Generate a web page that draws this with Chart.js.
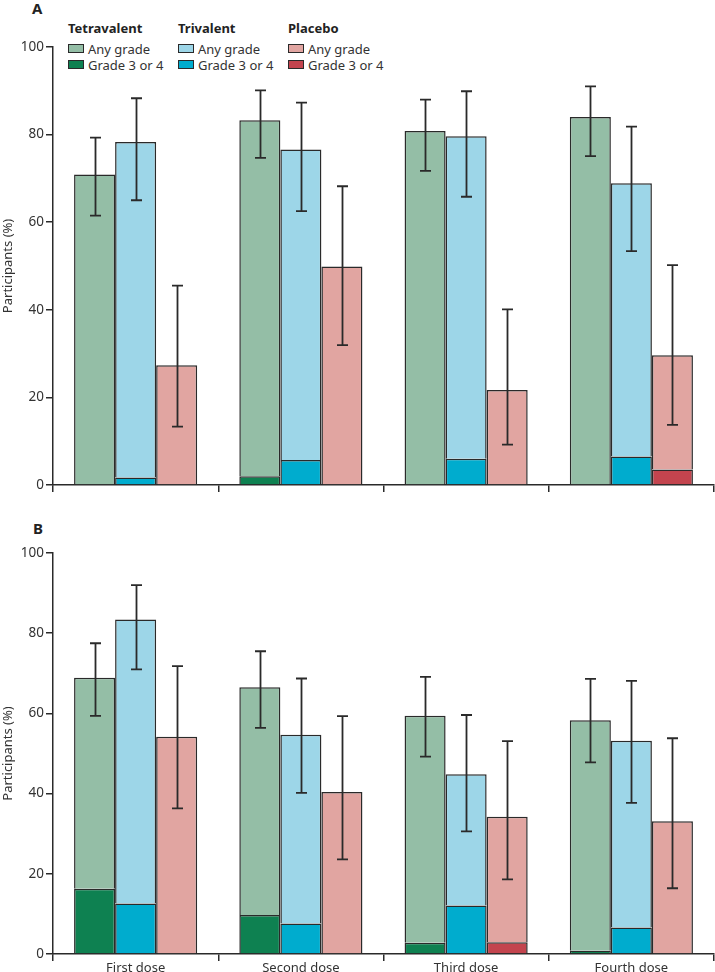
<!DOCTYPE html>
<html>
<head>
<meta charset="utf-8">
<script src="https://cdn.jsdelivr.net/npm/chart.js@4"></script>
<style>
  body { margin: 0; background: #fff; font-family: "Noto Sans", sans-serif; }
  #wrap { position: relative; width: 715px; height: 972px; overflow: hidden; }
  canvas { position: absolute; left: 0; }
  .panel { position: absolute; font-weight: bold; font-size: 15px; color: #222; }
  .head { position: absolute; font-weight: bold; font-size: 13px; color: #222; }
  .item { position: absolute; font-size: 13px; color: #333; line-height: 16px; white-space: nowrap; }
  .sw { display: inline-block; width: 14px; height: 7px; border: 1.5px solid #2a2a2a; margin-right: 4px; vertical-align: 1px; }
</style>
</head>
<body>
<div id="wrap">
  <div class="panel" style="left:32px;top:-2px;">A</div>
  <div class="panel" style="left:33px;top:518px;">B</div>
  <div id="legend"></div>
  <canvas id="chartA" width="715" height="495" style="top:0"></canvas>
  <canvas id="chartB" width="715" height="472" style="top:500px"></canvas>
</div>
<script>
const doses = ["First dose", "Second dose", "Third dose", "Fourth dose"];
const yTicks = [0, 20, 40, 60, 80, 100];
const groupNames = ["Tetravalent", "Trivalent", "Placebo"];
const gradeNames = ["Any grade", "Grade 3 or 4"];
const anyColors = ["#94bea6", "#9dd6e8", "#e1a5a1"];
const severeColors = ["#0e8151", "#00acce", "#c3444e"];

// panel A
const aTetraAny = [70.9, 83.3, 80.8, 84.0];
const aTetraSevere = [0, 2.0, 0, 0];
const aTetraLow = [61.5, 74.7, 71.7, 75.1];
const aTetraHigh = [79.3, 90.1, 88.0, 91.0];
const aTriAny = [78.3, 76.6, 79.6, 68.9];
const aTriSevere = [1.7, 5.7, 6.0, 6.5];
const aTriLow = [65.0, 62.5, 65.8, 53.4];
const aTriHigh = [88.3, 87.3, 89.9, 81.8];
const aPlaAny = [27.3, 49.9, 21.7, 29.6];
const aPlaSevere = [0, 0, 0, 3.5];
const aPlaLow = [13.3, 31.9, 9.2, 13.7];
const aPlaHigh = [45.5, 68.2, 40.1, 50.2];

// panel B
const bTetraAny = [68.9, 66.5, 59.4, 58.3];
const bTetraSevere = [16.3, 9.7, 2.8, 0.8];
const bTetraLow = [59.4, 56.4, 49.2, 47.8];
const bTetraHigh = [77.5, 75.5, 69.1, 68.6];
const bTriAny = [83.4, 54.7, 44.8, 53.2];
const bTriSevere = [12.6, 7.6, 12.1, 6.6];
const bTriLow = [71.0, 40.2, 30.6, 37.7];
const bTriHigh = [92.0, 68.7, 59.6, 68.1];
const bPlaAny = [54.2, 40.4, 34.2, 33.1];
const bPlaSevere = [0, 0, 2.9, 0];
const bPlaLow = [36.3, 23.6, 18.6, 16.4];
const bPlaHigh = [71.8, 59.3, 53.1, 53.8];

const ink = "#2a2a2a";
const font = "'Noto Sans', sans-serif";

// legend (html)
const legend = document.getElementById("legend");
const legendX = [68, 178, 288];
groupNames.forEach((name, i) => {
  const h = document.createElement("div");
  h.className = "head";
  h.style.left = legendX[i] + "px";
  h.style.top = "19px";
  h.innerText = name;
  legend.appendChild(h);
  [anyColors[i], severeColors[i]].forEach((c, k) => {
    const it = document.createElement("div");
    it.className = "item";
    it.style.left = legendX[i] + "px";
    it.style.top = (41 + k * 16) + "px";
    it.innerHTML = '<span class="sw" style="background:' + c + '"></span>' + gradeNames[k];
    legend.appendChild(it);
  });
});

const errorBars = {
  id: "errorBars",
  afterDatasetsDraw(chart) {
    const ctx = chart.ctx;
    const y = chart.scales.y;
    ctx.save();
    ctx.strokeStyle = ink;
    ctx.lineWidth = 1.8;
    chart.data.datasets.forEach((ds, i) => {
      if (!ds.ciLow) return;
      const meta = chart.getDatasetMeta(i);
      meta.data.forEach((bar, j) => {
        const x = Math.round(bar.x) + 0.5;
        const y1 = y.getPixelForValue(ds.ciHigh[j]);
        const y2 = y.getPixelForValue(ds.ciLow[j]);
        ctx.beginPath();
        ctx.moveTo(x, y1); ctx.lineTo(x, y2);
        ctx.moveTo(x - 5.5, y1); ctx.lineTo(x + 5.5, y1);
        ctx.moveTo(x - 5.5, y2); ctx.lineTo(x + 5.5, y2);
        ctx.stroke();
      });
    });
    ctx.restore();
  }
};

function makeChart(id, groups, topPad, xHeight, showLabels) {
  const datasets = [];
  groups.forEach((g, i) => {
    datasets.push({
      label: groupNames[i] + " " + gradeNames[1],
      data: g.severe,
      stack: groupNames[i],
      backgroundColor: severeColors[i],
      borderColor: ink,
      borderWidth: 1.5
    });
    datasets.push({
      label: groupNames[i] + " " + gradeNames[0],
      data: g.any.map((v, j) => v - g.severe[j]),
      stack: groupNames[i],
      backgroundColor: anyColors[i],
      borderColor: ink,
      borderWidth: 1.5,
      ciLow: g.low,
      ciHigh: g.high
    });
  });

  return new Chart(document.getElementById(id), {
    type: "bar",
    data: { labels: doses, datasets: datasets },
    plugins: [errorBars],
    options: {
      responsive: false,
      animation: false,
      devicePixelRatio: 1,
      categoryPercentage: 0.745,
      barPercentage: 1.0,
      layout: { padding: { top: topPad, right: 1, left: 0, bottom: 0 } },
      plugins: { legend: { display: false }, tooltip: { enabled: false } },
      scales: {
        x: {
          stacked: true,
          offset: true,
          grid: { display: true, offset: true, drawOnChartArea: false, drawTicks: true, tickLength: 7, color: ink, lineWidth: 1.5 },
          border: { display: true, color: ink, width: 1.5 },
          ticks: { display: showLabels, padding: -1, color: "#333", font: { family: font, size: 13 } },
          afterFit(scale) { scale.height = xHeight; }
        },
        y: {
          stacked: true,
          min: 0,
          max: 100,
          afterBuildTicks(scale) { scale.ticks = yTicks.map(v => ({ value: v })); },
          grid: { display: true, drawOnChartArea: false, drawTicks: true, tickLength: 7, color: ink, lineWidth: 1.5 },
          border: { display: true, color: ink, width: 1.5 },
          ticks: { padding: 2, color: "#333", font: { family: font, size: 13.5 } },
          title: { display: true, text: "Participants (%)", color: "#333", padding: 0, font: { family: font, size: 13 } },
          afterFit(scale) { scale.width = 53; }
        }
      }
    }
  });
}

makeChart("chartA", [
  { any: aTetraAny, severe: aTetraSevere, low: aTetraLow, high: aTetraHigh },
  { any: aTriAny, severe: aTriSevere, low: aTriLow, high: aTriHigh },
  { any: aPlaAny, severe: aPlaSevere, low: aPlaLow, high: aPlaHigh }
], 47, 8, false);

makeChart("chartB", [
  { any: bTetraAny, severe: bTetraSevere, low: bTetraLow, high: bTetraHigh },
  { any: bTriAny, severe: bTriSevere, low: bTriLow, high: bTriHigh },
  { any: bPlaAny, severe: bPlaSevere, low: bPlaLow, high: bPlaHigh }
], 53, 18, true);
</script>
</body>
</html>
